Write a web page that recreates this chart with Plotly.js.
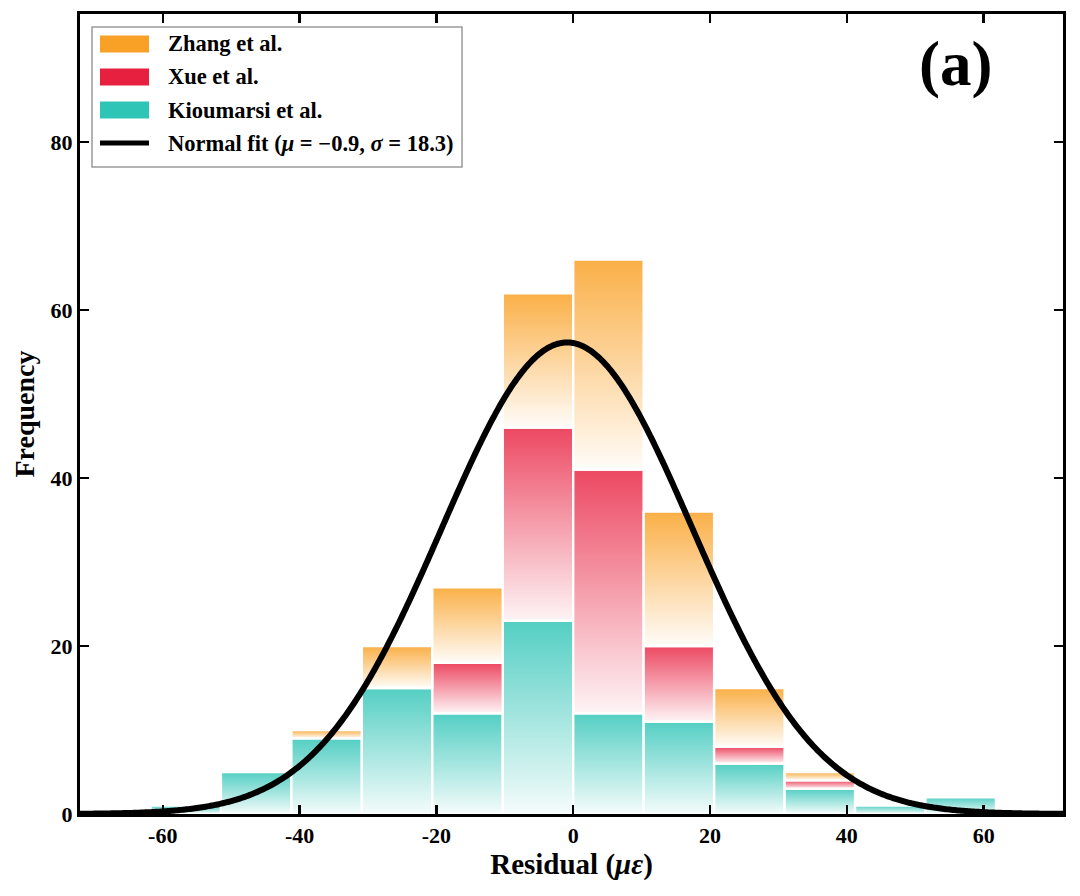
<!DOCTYPE html>
<html>
<head>
<meta charset="utf-8">
<script src="https://cdn.plot.ly/plotly-3.0.1.min.js"></script>
<style>html,body{margin:0;padding:0;background:#fff;}#chart{width:1080px;height:896px;}</style>
</head>
<body>
<div id="chart"></div>
<script>
// ---- data ----
const binLeft = [-61.8, -51.5, -41.2, -30.9, -20.6, -10.3, 0, 10.3, 20.6, 30.9, 41.2, 51.5];
const binWidth = 10.3;
const kioumarsi = [1, 5, 9, 15, 12, 23, 12, 11, 6, 3, 1, 2];
const xue       = [0, 0, 0, 0, 6, 23, 29, 9, 2, 1, 0, 0];
const zhang     = [0, 0, 1, 5, 9, 16, 25, 16, 7, 1, 0, 0];
const seriesNames = ['Zhang et al.', 'Xue et al.', 'Kioumarsi et al.'];
const fitMu = -0.9;
const fitSigma = 18.3;
const xTickVals = [-60, -40, -20, 0, 20, 40, 60];
const xTickText = ['-60', '-40', '-20', '0', '20', '40', '60'];
const yTickVals = [0, 20, 40, 60, 80];

// ---- styles ----
const solid = {zhang: '#f9a126', xue: '#e8203f', kio: '#2ec4b6'};
const grad = {
  kio:   [[0, 'rgba(46,196,182,0.05)'], [1, 'rgba(46,196,182,0.82)']],
  xue:   [[0, 'rgba(232,32,63,0.05)'],  [1, 'rgba(232,32,63,0.82)']],
  zhang: [[0, 'rgba(249,161,38,0.03)'], [1, 'rgba(249,161,38,0.85)']]
};
const FONT = 'Liberation Serif, Times New Roman, serif';

const traces = [];
function addSegments(vals, base, key) {
  for (let i = 0; i < vals.length; i++) {
    if (vals[i] <= 0) continue;
    const x0 = binLeft[i], x1 = binLeft[i] + binWidth;
    const b = base[i], t = base[i] + vals[i];
    traces.push({
      type: 'scatter', mode: 'lines',
      x: [x0, x0, x1, x1, x0], y: [b, t, t, b, b],
      fill: 'toself',
      fillgradient: {type: 'vertical', colorscale: grad[key]},
      line: {color: 'white', width: 2.4},
      hoverinfo: 'skip', showlegend: false
    });
  }
}
const zeros = kioumarsi.map(() => 0);
const base2 = kioumarsi.slice();
const base3 = kioumarsi.map((v, i) => v + xue[i]);
addSegments(kioumarsi, zeros, 'kio');
addSegments(xue, base2, 'xue');
addSegments(zhang, base3, 'zhang');

// Normal fit scaled to counts (parameters from the legend)
const total = kioumarsi.reduce((s, v, i) => s + v + xue[i] + zhang[i], 0);
const fx = [], fy = [];
for (let x = -72.5; x <= 72.5; x += 0.25) {
  fx.push(x);
  fy.push(total * binWidth / (fitSigma * Math.sqrt(2 * Math.PI)) *
          Math.exp(-0.5 * Math.pow((x - fitMu) / fitSigma, 2)));
}
traces.push({type: 'scatter', mode: 'lines', x: fx, y: fy,
  line: {color: 'black', width: 6, simplify: false}, hoverinfo: 'skip', showlegend: false});

// ---- manual legend (paper coords) ----
const L = 80, R = 1063, T = 14, B = 814;
const px = v => (v - L) / (R - L);
const py = v => (B - v) / (B - T);
const rows = [44, 77, 110, 143];
const shapes = [
  {type: 'rect', xref: 'paper', yref: 'paper', x0: px(92), x1: px(462), y0: py(167), y1: py(27),
   line: {color: '#9a9a9a', width: 1.5}, fillcolor: 'white', layer: 'above'}
];
[solid.zhang, solid.xue, solid.kio].forEach((c, i) => {
  shapes.push({type: 'rect', xref: 'paper', yref: 'paper', x0: px(100), x1: px(149),
    y0: py(rows[i] + 8.5), y1: py(rows[i] - 8.5), line: {width: 0}, fillcolor: c, layer: 'above'});
});
shapes.push({type: 'line', xref: 'paper', yref: 'paper', x0: px(100), x1: px(149),
  y0: py(rows[3]), y1: py(rows[3]), line: {color: 'black', width: 5}, layer: 'above'});

const legendTexts = seriesNames.concat(['Normal fit (<i>μ</i> = −0.9, <i>σ</i> = 18.3)']);
const annotations = legendTexts.map((t, i) => ({
  xref: 'paper', yref: 'paper', x: px(166), y: py(rows[i]), xanchor: 'left', yanchor: 'middle',
  text: t, showarrow: false, font: {family: FONT, size: 22.5, color: 'black', weight: 700}
}));
annotations.push({xref: 'paper', yref: 'paper', x: px(955), y: py(64), xanchor: 'center', yanchor: 'middle',
  text: '(a)', showarrow: false, font: {family: FONT, size: 63, color: 'black', weight: 700}});

const axisCommon = {
  showgrid: false, zeroline: false, showline: true, linecolor: 'black', linewidth: 3,
  mirror: 'ticks', ticks: 'inside', ticklen: 9, tickwidth: 2.5, tickcolor: 'black',
  tickfont: {family: FONT, size: 22, color: 'black', weight: 700}
};

const layout = {
  width: 1080, height: 896,
  margin: {l: 80, r: 17, t: 14, b: 82},
  paper_bgcolor: 'white', plot_bgcolor: 'white',
  showlegend: false,
  xaxis: Object.assign({}, axisCommon, {
    range: [-72.1, 71.6], tickmode: 'array', tickvals: xTickVals, ticktext: xTickText,
    title: {text: 'Residual (<i>με</i>)', font: {family: FONT, size: 29, color: 'black', weight: 700}, standoff: 4}
  }),
  yaxis: Object.assign({}, axisCommon, {
    range: [0, 95.24], tickmode: 'array', tickvals: yTickVals,
    title: {text: 'Frequency', font: {family: FONT, size: 28, color: 'black', weight: 700}, standoff: 8}
  }),
  shapes: shapes,
  annotations: annotations
};

Plotly.newPlot('chart', traces, layout, {displayModeBar: false, staticPlot: true});
</script>
</body>
</html>
